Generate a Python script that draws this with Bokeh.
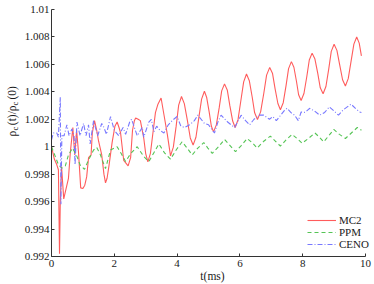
import math
from bokeh.plotting import figure
from bokeh.models import Label, FixedTicker, Legend
from bokeh.layouts import row
from bokeh.embed import file_html
from bokeh.resources import INLINE

# ---------------- data ----------------
mc2_t = [0.00, 0.09, 0.17, 0.22, 0.255, 0.28, 0.32, 0.39, 0.45, 0.54, 0.60, 0.68,
         0.74, 0.80, 0.86, 0.93, 1.00, 1.06, 1.12, 1.18, 1.26, 1.30, 1.37, 1.44,
         1.50, 1.60, 1.67, 1.72, 1.77, 1.83, 1.93, 2.02, 2.09, 2.15, 2.20, 2.30,
         2.44, 2.52, 2.58, 2.64, 2.68, 2.76, 2.83, 2.94, 3.00, 3.07,
         3.15, 3.23, 3.31, 3.39, 3.49, 3.59, 3.69, 3.79, 3.88, 3.97, 4.05, 4.14,
         4.23, 4.33, 4.42, 4.51, 4.60, 4.69, 4.78, 4.87, 4.94, 5.02, 5.09, 5.16,
         5.25, 5.34, 5.42, 5.51, 5.60, 5.68, 5.77, 5.85, 5.94, 6.03, 6.12, 6.21,
         6.30, 6.39, 6.47, 6.56, 6.66, 6.76, 6.85, 6.95, 7.04, 7.12, 7.21, 7.29,
         7.38, 7.47, 7.55, 7.64, 7.72, 7.80, 7.87, 7.95, 8.04, 8.13, 8.21, 8.30,
         8.39, 8.48, 8.56, 8.65, 8.74, 8.83, 8.91, 9.00, 9.09, 9.18, 9.27, 9.36,
         9.45, 9.54, 9.63, 9.72, 9.80, 9.87]
mc2_v = [1.0000, 0.9991, 0.99868, 0.99832, 0.9922, 0.9960, 0.99856, 0.9962, 0.9968, 0.9977, 0.9996, 1.0014,
         0.9994, 1.0012, 0.9996, 0.9970, 0.99695, 0.9972, 0.9978, 0.9992, 0.9994, 1.0010, 1.0019, 1.0012,
         1.0004, 0.9994, 0.9980, 0.99736, 0.9977, 0.9986, 1.0003, 1.0015, 1.0018, 1.0014, 1.0010, 0.9990,
         0.9986, 0.9992, 1.0012, 1.0019, 1.0021, 1.0020, 1.0019, 1.0006, 0.9995, 0.9989,
         0.99952, 1.0010, 1.00248, 1.0031, 1.00355, 1.00222, 1.00088, 0.99933, 0.99997, 1.0015, 1.00303, 1.00366,
         1.00314, 1.00189, 1.00064, 1.00012, 1.00069, 1.00208, 1.00347, 1.00404, 1.00361, 1.00256, 1.00151, 1.00108,
         1.00159, 1.00283, 1.00407, 1.00458, 1.00411, 1.00299, 1.00187, 1.0014, 1.00197, 1.00335, 1.00473, 1.0053,
         1.00481, 1.00364, 1.00247, 1.00198, 1.00254, 1.00388, 1.00522, 1.00578, 1.00533, 1.00424, 1.00315, 1.0027,
         1.00321, 1.00445, 1.00569, 1.0062, 1.00579, 1.00479, 1.00379, 1.00337, 1.00388, 1.0051, 1.00632, 1.00682,
         1.00639, 1.00534, 1.00429, 1.00386, 1.00439, 1.00567, 1.00695, 1.00747, 1.00702, 1.00595, 1.00488, 1.00443,
         1.00496, 1.00622, 1.00748, 1.0080, 1.00755, 1.00662]

ppm_t = [0.00, 0.12, 0.22, 0.33, 0.44, 0.54, 0.67, 0.81, 0.91, 1.05, 1.18, 1.34,
         1.44, 1.56, 1.72, 1.88, 2.09, 2.22, 2.36, 2.52, 2.73, 2.94, 3.10, 3.27,
         3.42, 3.60, 3.79, 3.98, 4.16, 4.32, 4.48, 4.66, 4.85, 4.98, 5.12, 5.32,
         5.51, 5.68, 5.86, 6.05, 6.23, 6.39, 6.55, 6.76, 6.97, 7.13, 7.29, 7.47,
         7.66, 7.82, 7.98, 8.18, 8.39, 8.53, 8.67, 8.83, 8.99, 9.17, 9.36, 9.55,
         9.74, 9.87]
ppm_v = [1.0000, 0.9993, 0.99868, 0.99844, 0.9986, 0.9994, 0.9999, 0.9993, 0.99868, 0.99835, 0.99904, 0.99976,
         0.99995, 0.9994, 0.9984, 0.99976, 1.0000, 0.9995, 0.99892, 0.9995, 1.0000, 0.99928, 0.99892, 0.9996,
         1.0002, 0.99955, 0.99909, 0.9998, 1.00036, 0.9999, 0.9994, 0.9999, 1.0003, 0.9999, 0.99952, 1.0000,
         1.00053, 1.0001, 0.99964, 1.0001, 1.0006, 1.0003, 0.9999, 1.0004, 1.00077, 1.0004, 1.00005, 1.0005,
         1.0009, 1.0006, 1.00025, 1.0006, 1.0010, 1.0007, 1.00036, 1.0008, 1.00126, 1.0009, 1.0006, 1.0010,
         1.0014, 1.0012]

ceno_t = [0.00, 0.06, 0.17, 0.22, 0.28, 0.30, 0.33, 0.40, 0.49, 0.56, 0.65, 0.72,
          0.75, 0.81, 0.91, 1.02, 1.10, 1.18, 1.23, 1.34, 1.47, 1.60, 1.67, 1.75,
          1.88, 2.00, 2.14, 2.28, 2.36, 2.49, 2.55, 2.73, 2.89, 2.94, 3.10, 3.18,
          3.26, 3.35, 3.45, 3.58, 3.72, 3.84, 4.00, 4.12, 4.24, 4.40, 4.55, 4.66,
          4.87, 5.00, 5.19, 5.30, 5.40, 5.61, 5.83, 5.97, 6.04, 6.18, 6.31, 6.45,
          6.62, 6.76, 6.94, 7.05, 7.16, 7.30, 7.42, 7.50, 7.62, 7.74, 7.86, 7.95,
          8.08, 8.22, 8.38, 8.54, 8.70, 8.85, 9.00, 9.14, 9.30, 9.42, 9.54, 9.68,
          9.81, 9.87]
ceno_v = [1.0005, 1.0010, 1.0010, 1.0007, 1.0036, 0.9958, 1.0008, 1.0008, 1.0016, 1.0008, 1.0013, 1.0008,
          0.9987, 1.0018, 1.0008, 1.0017, 1.0008, 1.0016, 1.0002, 1.0019, 1.0008, 1.0017, 1.0014, 1.0009,
          1.0022, 1.0012, 1.0008, 1.0014, 1.0009, 1.0018, 1.0020, 1.0008, 1.0014, 1.0007, 1.0018, 1.0020,
          1.0011, 1.0015, 1.0012, 1.0010, 1.0016, 1.0019, 1.0022, 1.0015, 1.0014, 1.0016, 1.0019, 1.0023,
          1.0017, 1.0016, 1.0010, 1.0018, 1.0023, 1.0018, 1.0014, 1.0020, 1.0023, 1.0019, 1.0016, 1.0020,
          1.0023, 1.0023, 1.0020, 1.0022, 1.0019, 1.0023, 1.00265, 1.0028, 1.0025, 1.0023, 1.0019, 1.00253,
          1.0025, 1.0028, 1.0026, 1.0023, 1.0025, 1.0029, 1.0026, 1.0023, 1.0027, 1.0029, 1.0031, 1.0028,
          1.00253, 1.0025]

x_ticks = [0, 2, 4, 6, 8, 10]
y_ticks = [0.992, 0.994, 0.996, 0.998, 1.0, 1.002, 1.004, 1.006, 1.008, 1.01]
y_tick_labels = ["0.992", "0.994", "0.996", "0.998", "1", "1.002", "1.004", "1.006", "1.008", "1.01"]
series_names = ["MC2", "PPM", "CENO"]
x_label = "t(ms)"
y_label_parts = ["ρ", "c", "(t)/ρ", "c", "(0)"]

# ---------------- main figure ----------------
FONT = "Liberation Serif"
TXT = "#1a1a1a"
AX = "#333333"

p = figure(width=354, height=284, x_range=(0, 10.255), y_range=(0.992, 1.01),
           output_backend="svg", toolbar_location=None,
           min_border_left=31, min_border_right=1, min_border_top=9, min_border_bottom=27)
p.outline_line_color = None
p.grid.visible = False
p.background_fill_color = "white"
p.border_fill_color = "white"

r1 = p.line(mc2_t, mc2_v, line_color="#ff5c5c", line_width=1.1)
r2 = p.line(ppm_t, ppm_v, line_color="#55c455", line_width=1.1, line_dash="4 3")
r3 = p.line(ceno_t, ceno_v, line_color="#7878ff", line_width=1.1, line_dash="5 2 1 2")

for ax in (p.xaxis[0], p.yaxis[0]):
    ax.axis_line_color = AX
    ax.major_tick_line_color = AX
    ax.major_tick_in = 3
    ax.major_tick_out = 0
    ax.minor_tick_line_color = None
    ax.major_label_text_font = FONT
    ax.major_label_text_font_size = "11px"
    ax.major_label_text_color = TXT

p.xaxis.ticker = FixedTicker(ticks=x_ticks)
p.xaxis.bounds = (0, 10)
p.xaxis.major_label_standoff = 3
p.xaxis.axis_label = x_label
p.xaxis.axis_label_text_font = FONT
p.xaxis.axis_label_text_font_size = "11.5px"
p.xaxis.axis_label_text_font_style = "normal"
p.xaxis.axis_label_text_color = TXT
p.xaxis.axis_label_standoff = 0

p.yaxis.ticker = FixedTicker(ticks=y_ticks)
p.yaxis.bounds = (0.992, 1.01)
p.yaxis.major_label_overrides = {v: s for v, s in zip(y_ticks, y_tick_labels)}
p.yaxis.major_label_standoff = 2

legend = Legend(items=[(series_names[0], [r1]), (series_names[1], [r2]), (series_names[2], [r3])],
                location=(256, 6), orientation="vertical")
legend.border_line_color = None
legend.background_fill_alpha = 0
legend.padding = 0
legend.margin = 0
legend.spacing = 0
legend.glyph_width = 29
legend.glyph_height = 12
legend.label_height = 12
legend.label_standoff = 3
legend.label_text_font = FONT
legend.label_text_font_size = "11px"
legend.label_text_color = TXT
p.add_layout(legend)

# ---------------- narrow strip holding the rotated y-axis label ----------------
s = figure(width=20, height=284, x_axis_type=None, y_axis_type=None,
           output_backend="svg", toolbar_location=None,
           min_border_left=0, min_border_right=0, min_border_top=0, min_border_bottom=0)
s.outline_line_color = None
s.grid.visible = False
s.background_fill_color = "white"
s.border_fill_color = "white"

base_x = 11
offs = [(0.0, 0, "11.5px"), (6.0, 3, "8.5px"), (11.3, 0, "11.5px"), (31.1, 3, "8.5px"), (37.0, 0, "11.5px")]
y0 = 120
for txt, (dy, dx, fs) in zip(y_label_parts, offs):
    s.add_layout(Label(x=base_x + dx, y=y0 + dy, x_units="screen", y_units="screen", text=txt,
                       angle=math.pi / 2, text_font=FONT, text_font_size=fs, text_color=TXT,
                       text_align="left", text_baseline="alphabetic"))

layout = row(s, p, spacing=0)
open("out.html", "w").write(file_html(layout, INLINE))
